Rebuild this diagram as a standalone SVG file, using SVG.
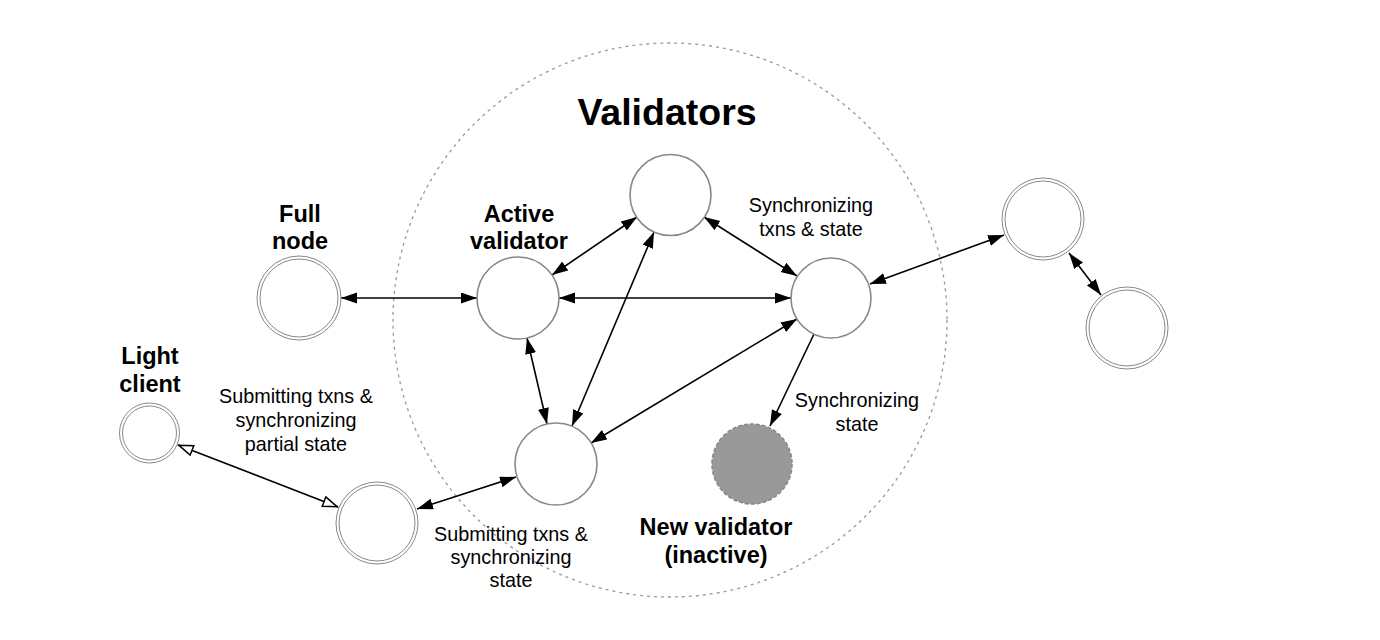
<svg xmlns="http://www.w3.org/2000/svg" width="1380" height="640" viewBox="0 0 1380 640">
<style>
.bg{fill:#fff}
.region{fill:none;stroke:#999;stroke-width:1.3;stroke-dasharray:3 4}
.val{fill:#fff;stroke:#888;stroke-width:1.6}
.dbl{fill:#fff;stroke:#888;stroke-width:1}
.new{fill:#999;stroke:#888;stroke-width:1.6;stroke-dasharray:4 2}
.edge{fill:none;stroke:#000;stroke-width:1.6}
.t{font-family:"Liberation Sans",Arial,sans-serif;font-size:19.8px;fill:#000;text-anchor:middle}
.b{font-family:"Liberation Sans",Arial,sans-serif;font-size:23.5px;font-weight:bold;fill:#000;text-anchor:middle}
.title{font-family:"Liberation Sans",Arial,sans-serif;font-size:37.5px;font-weight:bold;fill:#000;text-anchor:middle}
</style>
<defs>
<marker id="ah" markerUnits="userSpaceOnUse" markerWidth="17" markerHeight="12" refX="16" refY="5.5" orient="auto-start-reverse">
<path d="M0,0 L16,5.5 L0,11 z" fill="#000"/>
</marker>
<marker id="oh" markerUnits="userSpaceOnUse" markerWidth="18" markerHeight="14" refX="16" refY="6" orient="auto-start-reverse">
<path d="M1,1 L15,6 L1,11 z" fill="#fff" stroke="#000" stroke-width="1.5"/>
</marker>
</defs>
<rect class="bg" x="0" y="0" width="1380" height="640"/>
<g id="validators-region">
<circle class="region" cx="670" cy="320" r="277"/>
<text class="title" x="667" y="125">Validators</text>
</g>
<g id="connectors">
<line class="edge" x1="341" y1="298" x2="477" y2="298" marker-start="url(#ah)" marker-end="url(#ah)"/>
<line class="edge" x1="559" y1="298" x2="791" y2="298" marker-start="url(#ah)" marker-end="url(#ah)"/>
<line class="edge" x1="552" y1="275" x2="637" y2="217" marker-start="url(#ah)" marker-end="url(#ah)"/>
<line class="edge" x1="704" y1="217" x2="797" y2="276" marker-start="url(#ah)" marker-end="url(#ah)"/>
<line class="edge" x1="527" y1="338" x2="547" y2="424" marker-start="url(#ah)" marker-end="url(#ah)"/>
<line class="edge" x1="654" y1="232" x2="572" y2="426" marker-start="url(#ah)" marker-end="url(#ah)"/>
<line class="edge" x1="797" y1="319" x2="591" y2="443" marker-start="url(#ah)" marker-end="url(#ah)"/>
<line class="edge" x1="814" y1="334" x2="770" y2="426" marker-end="url(#ah)"/>
<line class="edge" x1="870" y1="284" x2="1004" y2="235" marker-start="url(#ah)" marker-end="url(#ah)"/>
<line class="edge" x1="1069" y1="253" x2="1101" y2="295" marker-start="url(#ah)" marker-end="url(#ah)"/>
<line class="edge" x1="516" y1="477" x2="417" y2="509" marker-start="url(#ah)" marker-end="url(#ah)"/>
<line class="edge" x1="178" y1="445" x2="338" y2="507" marker-start="url(#oh)" marker-end="url(#oh)"/>
</g>
<g id="active-validator">
<circle class="val" cx="518" cy="298" r="41"/>
<text class="b" x="519" y="222">Active</text>
<text class="b" x="519" y="249">validator</text>
</g>
<g id="validator-top">
<circle class="val" cx="670.5" cy="195" r="40.5"/>
</g>
<g id="validator-right">
<circle class="val" cx="831" cy="298" r="40"/>
</g>
<g id="validator-bottom">
<circle class="val" cx="556" cy="464" r="41"/>
</g>
<g id="new-validator">
<circle class="new" cx="752" cy="464" r="40"/>
<text class="b" x="716" y="535">New validator</text>
<text class="b" x="716" y="563">(inactive)</text>
</g>
<g id="full-node">
<circle class="dbl" cx="299" cy="298" r="42"/>
<circle class="dbl" cx="299" cy="298" r="39"/>
<text class="b" x="300" y="222">Full</text>
<text class="b" x="300" y="249">node</text>
</g>
<g id="light-client">
<circle class="dbl" cx="149.5" cy="433" r="30"/>
<circle class="dbl" cx="149.5" cy="433" r="27"/>
<text class="b" x="150" y="364">Light</text>
<text class="b" x="150" y="392">client</text>
</g>
<g id="client-node">
<circle class="dbl" cx="377" cy="523" r="41"/>
<circle class="dbl" cx="377" cy="523" r="38"/>
</g>
<g id="peer-top">
<circle class="dbl" cx="1043" cy="219" r="41"/>
<circle class="dbl" cx="1043" cy="219" r="38"/>
</g>
<g id="peer-bottom">
<circle class="dbl" cx="1127" cy="328" r="41"/>
<circle class="dbl" cx="1127" cy="328" r="38"/>
</g>
<g id="labels">
<text class="t" x="811" y="212">Synchronizing</text>
<text class="t" x="811" y="236">txns &amp; state</text>
<text class="t" x="296" y="403">Submitting txns &amp;</text>
<text class="t" x="296" y="427">synchronizing</text>
<text class="t" x="296" y="451">partial state</text>
<text class="t" x="511" y="541">Submitting txns &amp;</text>
<text class="t" x="511" y="564">synchronizing</text>
<text class="t" x="511" y="587">state</text>
<text class="t" x="857" y="407">Synchronizing</text>
<text class="t" x="857" y="431">state</text>
</g>
</svg>
